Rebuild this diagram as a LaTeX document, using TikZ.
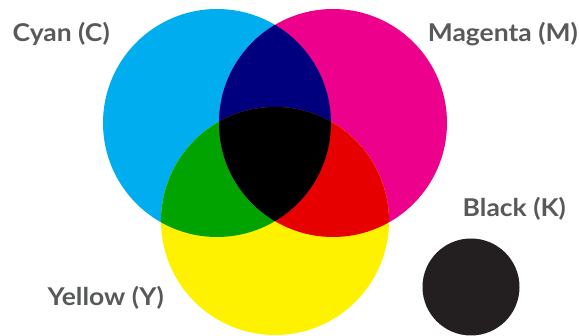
\documentclass[tikz,border=0pt]{standalone}
\usepackage{fontspec}
\setmainfont{Lato}[FakeStretch=1.08]
\definecolor{cC}{HTML}{00AEEF}
\definecolor{cM}{HTML}{EC008C}
\definecolor{cY}{HTML}{FFF200}
\definecolor{cB}{HTML}{00007F}
\definecolor{cG}{HTML}{00A300}
\definecolor{cR}{HTML}{E60000}
\definecolor{cK}{HTML}{000000}
\definecolor{cKK}{HTML}{231F20}
\definecolor{txt}{HTML}{58595B}
\begin{document}
\begin{tikzpicture}[x=1pt,y=-1pt,
  lbl/.style={text=txt,font=\fontsize{24.5}{24.5}\selectfont\bfseries,inner sep=0pt}]
\useasboundingbox (0,0) rectangle (579,336);
\def\rr{114}
\fill[cC] (217,123) circle (\rr);
\fill[cM] (333,123) circle (\rr);
\fill[cY] (275,221) circle (\rr);
\begin{scope}
  \clip (217,123) circle (\rr);
  \fill[cB] (333,123) circle (\rr);
  \fill[cG] (275,221) circle (\rr);
\end{scope}
\begin{scope}
  \clip (333,123) circle (\rr);
  \fill[cR] (275,221) circle (\rr);
\end{scope}
\begin{scope}
  \clip (217,123) circle (\rr);
  \clip (333,123) circle (\rr);
  \fill[cK] (275,221) circle (\rr);
\end{scope}
\fill[cKK] (471,287) circle (48.5);
\node[lbl,anchor=base west] (c) at (12.5,41.7) {Cyan (C)};
\node[lbl,anchor=base east] (m) at (578,41.5) {Magenta (M)};
\node[lbl,anchor=base west] (k) at (462.5,217) {Black (K)};
\node[lbl,anchor=base west] (y) at (47.5,306) {Yellow (Y)};
\end{tikzpicture}
\end{document}
